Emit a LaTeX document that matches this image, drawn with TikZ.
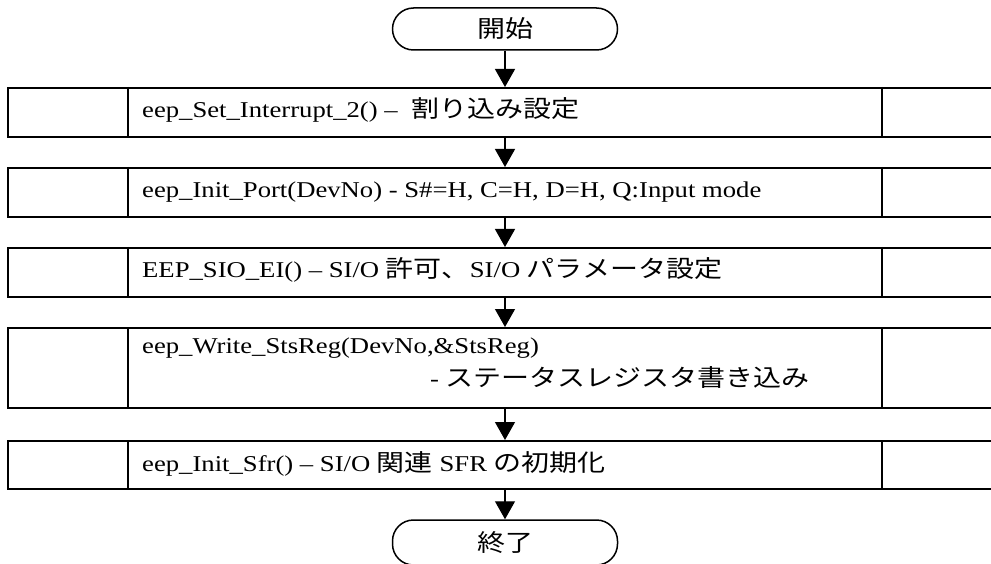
\documentclass[tikz,border=0pt]{standalone}
\usepackage{fontspec}
\setmainfont{Liberation Serif}[FakeStretch=1.18]
\newfontfamily\jp{Noto Sans CJK JP}[FakeStretch=1.18,Scale=1.05]
\usetikzlibrary{arrows.meta}
\begin{document}
\begin{tikzpicture}[x=1pt,y=-1pt,
  stepbox/.style={draw, line width=2pt, minimum width=990pt, inner sep=0pt},
  divider/.style={line width=1.3pt},
  term/.style={draw, line width=1.5pt, minimum width=225pt, minimum height=42pt, rounded corners=21pt, inner sep=0pt, font=\jp\fontsize{22.6}{26}\selectfont},
  flow/.style={line width=1.3pt, -{Triangle[length=18pt,width=20pt]}},
  txt/.style={anchor=base west, inner sep=0pt, font=\fontsize{22.6}{28}\selectfont}]
\useasboundingbox (0,0) rectangle (991,564);
\clip (0,0) rectangle (991,564);
\coordinate (L) at (128,0);
\coordinate (R) at (882,0);
\coordinate (A) at (505,0);
\node[term] (start) at (505,29) {開始};
\node[stepbox, minimum height=49pt] (b1) at (503,112.5) {};
\node[stepbox, minimum height=49pt] (b2) at (503,192.5) {};
\node[stepbox, minimum height=49pt] (b3) at (503,272.5) {};
\node[stepbox, minimum height=80pt] (b4) at (503,368) {};
\node[stepbox, minimum height=48pt] (b5) at (503,465) {};
\node[term, minimum height=45pt] (end) at (505,542.5) {終了};
\foreach \b in {b1,b2,b3,b4,b5}{
  \draw[divider] (\b.north -| L) -- (\b.south -| L);
  \draw[divider] (\b.north -| R) -- (\b.south -| R);
}
\draw[flow] (start.south) -- (start.south |- b1.north);
\draw[flow] (b1.south -| A) -- (b2.north -| A);
\draw[flow] (b2.south -| A) -- (b3.north -| A);
\draw[flow] (b3.south -| A) -- (b4.north -| A);
\draw[flow] (b4.south -| A) -- (b5.north -| A);
\draw[flow] (b5.south -| A) -- (end.north);
\node[txt] (t1) at (142,118) {eep\_Set\_Interrupt\_2() – \ {\jp 割り込み設定}};
\node[txt] (t2) at (142,198) {eep\_Init\_Port(DevNo) - S\#=H, C=H, D=H, Q:Input mode};
\node[txt] (t3) at (142,277) {EEP\_SIO\_EI() – SI/O {\jp 許可、}SI/O {\jp パラメータ設定}};
\node[txt] (t4a) at (142,353) {eep\_Write\_StsReg(DevNo,\&StsReg)};
\node[txt] (t4b) at (430,386) {- {\jp ステータスレジスタ書き込み}};
\node[txt] (t5) at (142,471) {eep\_Init\_Sfr() – SI/O {\jp 関連} SFR {\jp の初期化}};
\end{tikzpicture}
\end{document}
